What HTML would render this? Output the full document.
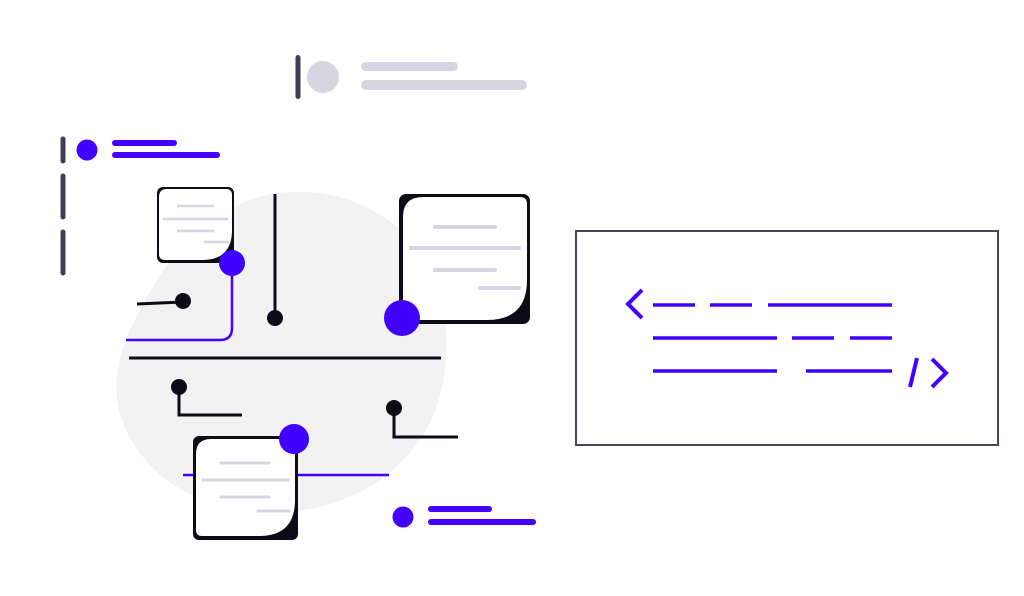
<!DOCTYPE html>
<html><head><meta charset="utf-8"><style>html,body{margin:0;padding:0;background:#fff}svg{display:block}</style></head><body>
<svg width="1024" height="596" viewBox="0 0 1024 596" xmlns="http://www.w3.org/2000/svg">
<!-- blob -->
<path d="M290,192 C360,188 420,230 440,290 C452,340 448,400 420,440 C380,495 320,515 260,512 C190,508 140,470 122,420 C110,385 118,350 140,310 C170,250 220,195 290,192 Z" fill="#f2f2f2"/>
<!-- top gray -->
<rect x="295.5" y="55" width="5" height="44" rx="2.5" fill="#3f3d56"/>
<circle cx="323" cy="77" r="16" fill="#d6d5e1"/>
<rect x="361" y="62" width="97" height="9" rx="4.5" fill="#d6d5e1"/>
<rect x="361" y="80" width="166" height="10" rx="5" fill="#d6d5e1"/>
<!-- left dashes -->
<g stroke="#3f3d56" stroke-width="5" stroke-linecap="round">
<line x1="63" y1="139" x2="63" y2="161"/>
<line x1="63" y1="176" x2="63" y2="217"/>
<line x1="63" y1="232" x2="63" y2="273"/>
</g>
<circle cx="87" cy="150" r="10.5" fill="#4200ff"/>
<g stroke="#4200ff" stroke-width="6" stroke-linecap="round">
<line x1="115" y1="143" x2="174" y2="143"/>
<line x1="115" y1="155" x2="217" y2="155"/>
<line x1="431" y1="509" x2="489" y2="509"/>
<line x1="431" y1="522" x2="533" y2="522"/>
</g>
<circle cx="403" cy="517" r="10.5" fill="#4200ff"/>
<!-- connectors -->
<g stroke="#0d0b17" stroke-width="3" fill="none">
<line x1="137" y1="304" x2="183" y2="302"/>
<line x1="275" y1="194" x2="275" y2="318"/>
<line x1="129" y1="358" x2="441" y2="358"/>
<polyline points="179,387 179,415 242,415"/>
<polyline points="394,408 394,437 458,437"/>
</g>
<g fill="#0d0b17">
<circle cx="183" cy="301" r="8"/>
<circle cx="275" cy="318" r="8"/>
<circle cx="179" cy="387" r="8"/>
<circle cx="394" cy="408" r="8"/>
</g>
<path d="M232,263 L232,328 Q232,340 220,340 L126,340" stroke="#4200ff" stroke-width="2.5" fill="none"/>
<line x1="183" y1="475" x2="389" y2="475" stroke="#4200ff" stroke-width="2.5"/>
<!-- small doc -->
<rect x="157" y="187" width="77" height="76" rx="6" fill="#0d0b17"/>
<path d="M167,189 L226,189 Q232,189 232,195 L232,230 Q232,260 202,260 L165,260 Q159,260 159,254 L159,197 Q159,189 167,189 Z" fill="#fff"/>
<g stroke="#d6d5e1" stroke-width="2.5">
<line x1="177" y1="206" x2="214" y2="206"/><line x1="163" y1="219" x2="228" y2="219"/>
<line x1="177" y1="231" x2="214" y2="231"/><line x1="204" y1="242" x2="229" y2="242"/>
</g>
<circle cx="232" cy="263" r="13" fill="#4200ff"/>
<!-- big doc -->
<rect x="399" y="194" width="131" height="130" rx="7" fill="#0d0b17"/>
<path d="M423,197 L520,197 Q527,197 527,204 L527,280 Q527,320 487,320 L410,320 Q403,320 403,313 L403,217 Q403,197 423,197 Z" fill="#fff"/>
<g stroke="#d6d5e1" stroke-width="4" stroke-linecap="round">
<line x1="435" y1="227" x2="495" y2="227"/><line x1="411" y1="248" x2="519" y2="248"/>
<line x1="435" y1="270" x2="495" y2="270"/><line x1="480" y1="288" x2="519" y2="288"/>
</g>
<circle cx="402" cy="318" r="18" fill="#4200ff"/>
<!-- bottom doc -->
<rect x="193" y="436" width="105" height="104" rx="6" fill="#0d0b17"/>
<path d="M211,439 L289,439 Q295,439 295,445 L295,500 Q295,536 259,536 L202,536 Q196,536 196,530 L196,454 Q196,439 211,439 Z" fill="#fff"/>
<g stroke="#d6d5e1" stroke-width="3" stroke-linecap="round">
<line x1="221" y1="463" x2="269" y2="463"/><line x1="203" y1="480" x2="288" y2="480"/>
<line x1="221" y1="497" x2="269" y2="497"/><line x1="258" y1="511" x2="289" y2="511"/>
</g>
<circle cx="294" cy="439" r="15" fill="#4200ff"/>
<!-- code box -->
<rect x="576" y="231" width="422" height="214" fill="#fff" stroke="#4a4458" stroke-width="2"/>
<g stroke="#4200ff" stroke-width="3.5" fill="none">
<polyline points="642,290 628,304 642,318" stroke-width="4"/>
<line x1="653" y1="305" x2="695" y2="305"/><line x1="710" y1="305" x2="752" y2="305"/><line x1="768" y1="305" x2="892" y2="305"/>
<line x1="653" y1="338" x2="777" y2="338"/><line x1="792" y1="338" x2="834" y2="338"/><line x1="850" y1="338" x2="892" y2="338"/>
<line x1="653" y1="371" x2="777" y2="371"/><line x1="806" y1="371" x2="892" y2="371"/>
<line x1="917" y1="358" x2="910" y2="387" stroke-width="4"/>
<polyline points="932,359 946,373 932,387" stroke-width="4"/>
</g>
</svg>
</body></html>
